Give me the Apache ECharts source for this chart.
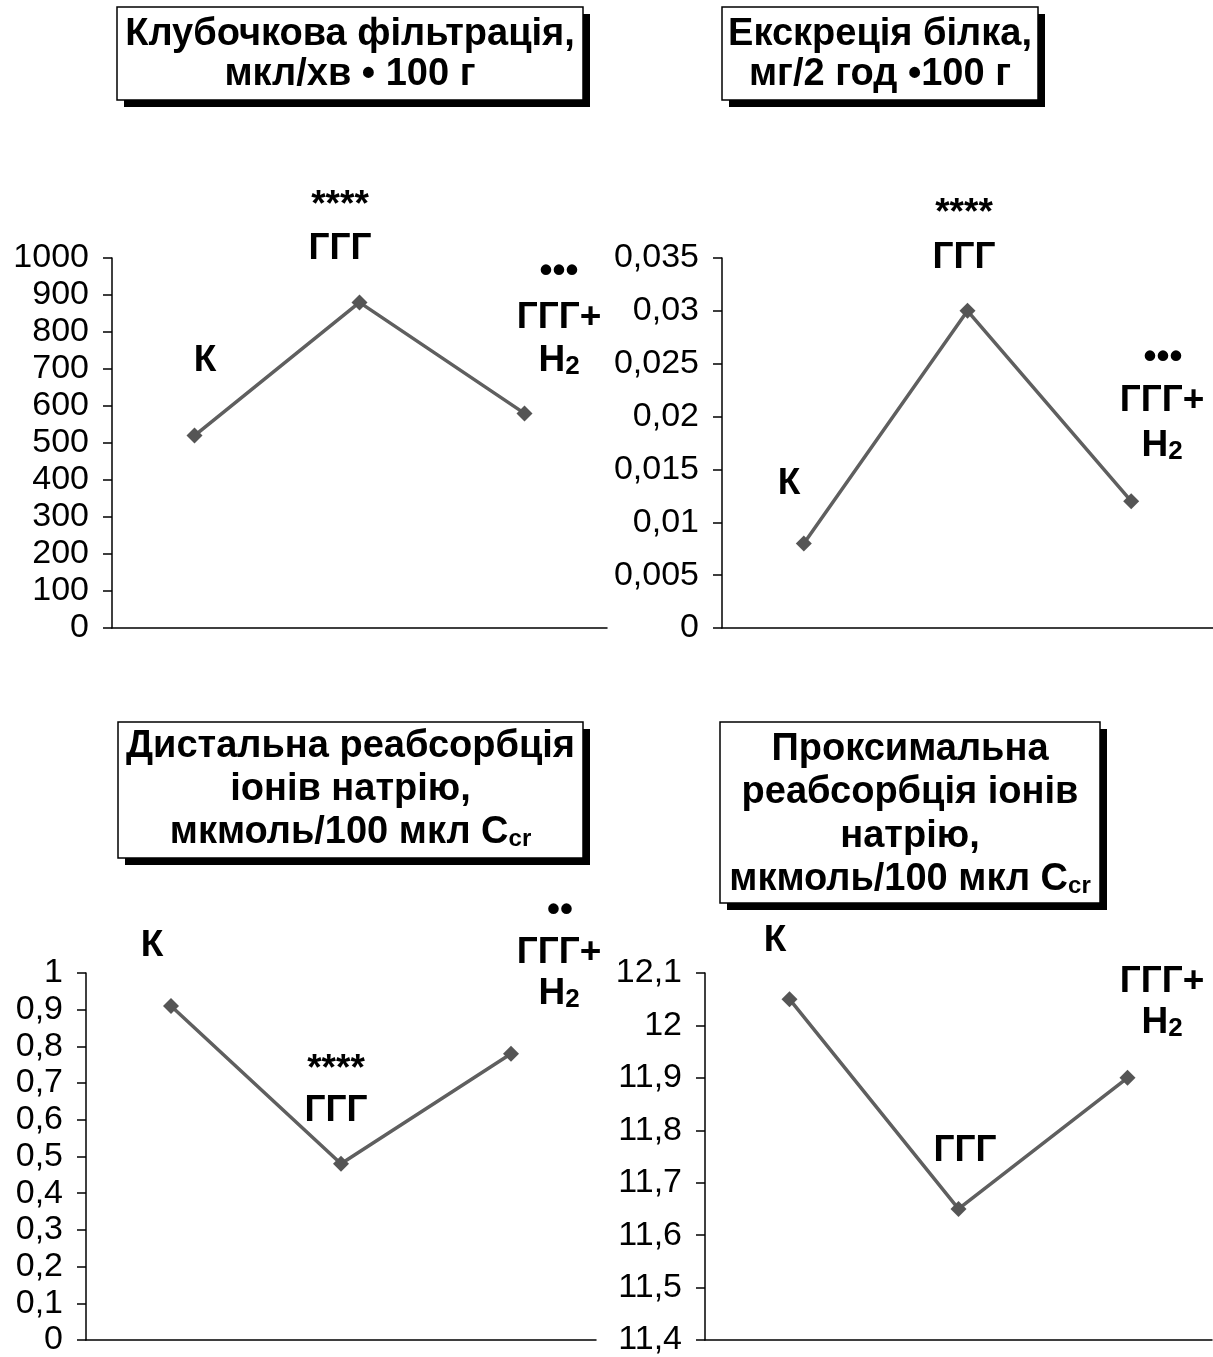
<!DOCTYPE html>
<html>
<head>
<meta charset="utf-8">
<script src="https://cdn.jsdelivr.net/npm/echarts@6/dist/echarts.min.js"></script>
<style>
html,body{margin:0;padding:0;background:#fff;}
#chart{width:1213px;height:1357px;}
</style>
</head>
<body>
<div id="chart"></div>
<script>
// ---- data ----
const categories = ['К', 'ГГГ', 'ГГГ+Н2'];
const glomerularFiltration = [520, 880, 580];
const proteinExcretion = [0.008, 0.030, 0.012];
const distalNaReabsorption = [0.91, 0.48, 0.78];
const proximalNaReabsorption = [12.05, 11.65, 11.90];

const yMin = [0, 0, 0, 11.4];
const yMax = [1000, 0.035, 1, 12.1];
const yInterval = [100, 0.005, 0.1, 0.1];

const titles = [
  ['Клубочкова фільтрація,', 'мкл/хв • 100 г'],
  ['Екскреція білка,', 'мг/2 год •100 г'],
  ['Дистальна реабсорбція', 'іонів натрію,', 'мкмоль/100 мкл C|cr'],
  ['Проксимальна', 'реабсорбція іонів', 'натрію,', 'мкмоль/100 мкл C|cr']
];

const sig1 = ['', '****', '•••'];
const sig2 = ['', '****', '•••'];
const sig3 = ['', '****', '••'];

// ---- layout ----
const grids = [
  {left: 112, top: 258, width: 495, height: 370},
  {left: 722, top: 258, width: 491, height: 370},
  {left: 86, top: 973, width: 510, height: 370},
  {left: 705, top: 973, width: 507, height: 370}
];
const seriesData = [glomerularFiltration, proteinExcretion, distalNaReabsorption, proximalNaReabsorption];

const FONT = '"Liberation Sans", Arial, sans-serif';
function fmt(v) {
  return String(parseFloat(Number(v).toFixed(4))).replace('.', ',');
}

const xAxes = grids.map((g, i) => ({
  type: 'category', gridIndex: i, data: categories, boundaryGap: true,
  axisLine: {lineStyle: {color: '#000', width: 1.5}},
  axisTick: {inside: true, length: 9, lineStyle: {color: '#000', width: 1.5}},
  axisLabel: {show: false}, splitLine: {show: false}
}));
const yAxes = grids.map((g, i) => ({
  type: 'value', gridIndex: i, min: yMin[i], max: yMax[i], interval: yInterval[i],
  axisLine: {show: true, lineStyle: {color: '#000', width: 1.5}},
  axisTick: {show: true, length: 9, lineStyle: {color: '#000', width: 1.5}},
  axisLabel: {color: '#000', fontSize: 34, fontFamily: FONT, margin: 23, formatter: fmt},
  splitLine: {show: false}
}));
const series = seriesData.map((d, i) => ({
  type: 'line', xAxisIndex: i, yAxisIndex: i, data: d,
  symbol: 'diamond', symbolSize: 16,
  lineStyle: {color: '#5f5f5f', width: 3.5},
  itemStyle: {color: '#555555'},
  animation: false
}));

// ---- annotations / titles ----
const graphics = [];
function boxTitle(x1, y1, x2, y2, lines, lineY, fs) {
  graphics.push({type: 'rect', shape: {x: x1 + 7, y: y1 + 7, width: x2 - x1, height: y2 - y1}, style: {fill: '#000'}, z: 10});
  graphics.push({type: 'rect', shape: {x: x1, y: y1, width: x2 - x1, height: y2 - y1}, style: {fill: '#fff', stroke: '#000', lineWidth: 1.5}, z: 11});
  const cx = (x1 + x2) / 2;
  lines.forEach((ln, k) => {
    let text = ln, rich = null;
    if (ln.indexOf('|') >= 0) {
      const parts = ln.split('|');
      text = '{a|' + parts[0] + '}{s|' + parts[1] + '}';
      rich = {
        a: {fontSize: fs, fontWeight: 'bold', fontFamily: FONT, fill: '#000', lineHeight: fs, verticalAlign: 'bottom'},
        s: {fontSize: Math.round(fs * 0.62), fontWeight: 'bold', fontFamily: FONT, fill: '#000', lineHeight: Math.round(fs * 0.62), verticalAlign: 'bottom', padding: [0, 0, 1, 0]}
      };
    }
    const st = {text: text, fill: '#000', font: 'bold ' + fs + 'px ' + FONT, align: 'center', verticalAlign: 'middle'};
    if (rich) st.rich = rich;
    graphics.push({type: 'text', x: cx, y: lineY[k], style: st, z: 12});
  });
}
boxTitle(117, 7, 583, 100, titles[0], [35, 75], 38);
boxTitle(722, 7, 1038, 100, titles[1], [35, 75], 38);
boxTitle(118, 722, 583, 858, titles[2], [747, 790, 833], 38);
boxTitle(720, 722, 1100, 903, titles[3], [750, 793, 837, 880], 38);

const AF = 37;
function ann(x, y, txt, size) {
  graphics.push({type: 'text', x: x, y: y, style: {text: txt, fill: '#000', font: 'bold ' + (size || AF) + 'px ' + FONT, align: 'center', verticalAlign: 'middle'}, z: 12});
}
function annH2(x, y) {
  graphics.push({type: 'text', x: x, y: y, style: {
    text: '{a|Н}{s|2}', align: 'center', verticalAlign: 'middle',
    rich: {
      a: {fontSize: AF, fontWeight: 'bold', fontFamily: FONT, fill: '#000', lineHeight: AF, verticalAlign: 'bottom'},
      s: {fontSize: 26, fontWeight: 'bold', fontFamily: FONT, fill: '#000', lineHeight: 26, verticalAlign: 'bottom'}
    }
  }, z: 12});
}
function groupLabel(x, yTop, yBot) { ann(x, yTop, 'ГГГ+'); annH2(x, yBot); }

// panel 1
ann(205, 361, categories[0]);
ann(340, 206, sig1[1]); ann(340, 249, categories[1]);
ann(559, 272, sig1[2]); groupLabel(559, 318, 361);
// panel 2
ann(789, 484, categories[0]);
ann(964, 214, sig2[1]); ann(964, 258, categories[1]);
ann(1163, 358, sig2[2]); groupLabel(1162, 401, 446);
// panel 3
ann(152, 946, categories[0]);
ann(336, 1070, sig3[1]); ann(336, 1111, categories[1]);
ann(560, 911, sig3[2]); groupLabel(559, 953, 994);
// panel 4
ann(775, 941, categories[0]);
ann(965, 1151, categories[1]);
groupLabel(1162, 982, 1023);

const chart = echarts.init(document.getElementById('chart'), null, {renderer: 'canvas'});
chart.setOption({
  backgroundColor: '#fff',
  animation: false,
  grid: grids,
  xAxis: xAxes,
  yAxis: yAxes,
  series: series,
  graphic: graphics
});
</script>
</body>
</html>
